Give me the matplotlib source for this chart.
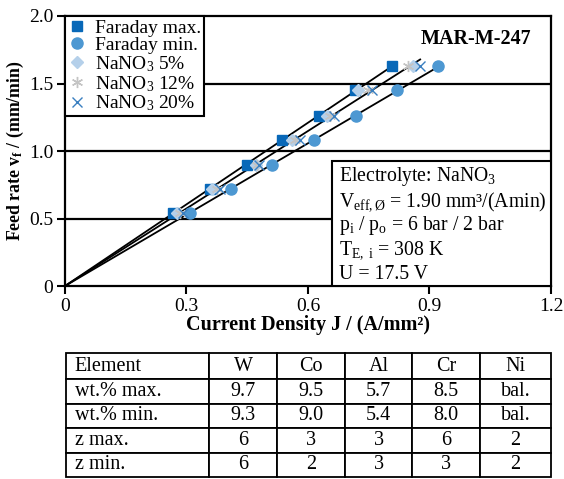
import numpy as np
import matplotlib.pyplot as plt
from matplotlib.patches import Rectangle

plt.rcParams['font.family'] = ['Liberation Serif', 'DejaVu Serif']
plt.rcParams['mathtext.fontset'] = 'custom'
plt.rcParams['mathtext.rm'] = 'Liberation Serif'
plt.rcParams['mathtext.it'] = 'Liberation Serif:italic'
plt.rcParams['mathtext.bf'] = 'Liberation Serif:bold'

# feed rate levels (mm/min)
feed = [0.54, 0.72, 0.90, 1.08, 1.26, 1.45, 1.63]
# current density (A/mm2) per series
j_far_max = [0.267, 0.358, 0.449, 0.537, 0.628, 0.716, 0.807]
j_far_min = [0.309, 0.410, 0.512, 0.615, 0.718, 0.820, 0.922]
j_nano5 = [0.276, 0.362, 0.472, 0.561, 0.646, 0.723, 0.860]
j_nano12 = [0.284, 0.375, 0.475, 0.568, 0.654, 0.749, 0.847]
j_nano20 = [0.292, 0.384, 0.478, 0.580, 0.664, 0.757, 0.877]

xticks = [0, 0.3, 0.6, 0.9, 1.2]
xticklabels = ['0', '0.3', '0.6', '0.9', '1.2']
yticks = [0, 0.5, 1.0, 1.5, 2.0]
yticklabels = ['0', '0.5', '1.0', '1.5', '2.0']

tbl_header = ['Element', 'W', 'Co', 'Al', 'Cr', 'Ni']
tbl_rows = [
    ['wt.% max.', '9.7', '9.5', '5.7', '8.5', 'bal.'],
    ['wt.% min.', '9.3', '9.0', '5.4', '8.0', 'bal.'],
    ['z max.', '6', '3', '3', '6', '2'],
    ['z min.', '6', '2', '3', '3', '2'],
]

info_lines = [
    r'Electrolyte: NaNO$_3$',
    r'V$_{\mathrm{eff,Ø}}$ = 1.90 mm³/(Amin)',
    r'p$_\mathrm{i}$ / p$_\mathrm{o}$ = 6 bar / 2 bar',
    r'T$_{\mathrm{E,\ i}}$ = 308 K',
    'U = 17.5 V',
]

fig = plt.figure(figsize=(5.64, 4.79), dpi=100)
ax = fig.add_axes([0.1152, 0.4029, 0.8617, 0.5637])

# fitted lines through origin
def fit_line(xs, ys):
    xs = np.array(xs)
    ys = np.array(ys)
    k = np.sum(xs * ys) / np.sum(xs * xs)
    xe = xs.max()
    ax.plot([0, xe], [0, k * xe], color='black', lw=1.3, zorder=2)

fit_line(j_far_max, feed)
fit_line(j_nano5 + j_nano12 + j_nano20, feed * 3)
fit_line(j_far_min, feed)

for yv in [0.5, 1.0, 1.5]:
    ax.axhline(yv, color='black', lw=1.6, zorder=1)

ax.plot(j_far_max, feed, 's', color='#0868b8', ms=7.5, ls='none', label='Faraday max.', zorder=3)
ax.plot(j_far_min, feed, 'o', color='#4d98d2', ms=8, ls='none', label='Faraday min.', zorder=3)
ax.plot(j_nano5, feed, 'D', color='#b5d0ea', ms=6, ls='none', label=r'NaNO$_3$ 5%', zorder=4)
ax.plot(j_nano12, feed, marker=(6, 2, 0), color='#c4c4c4', ms=8, mew=1.0, ls='none', label=r'NaNO$_3$ 12%', zorder=4)
ax.plot(j_nano20, feed, 'x', color='#3a7fc0', ms=7, mew=1.0, ls='none', label=r'NaNO$_3$ 20%', zorder=4)

ax.set_xlim(0, 1.2)
ax.set_ylim(0, 2.0)
ax.set_xticks(xticks)
ax.set_xticklabels(xticklabels)
ax.set_yticks(yticks)
ax.set_yticklabels(yticklabels)
ax.tick_params(direction='out', length=6, width=1.5, labelsize=14, colors='black', pad=2.5)
for s in ax.spines.values():
    s.set_linewidth(1.6)

ax.set_xlabel('Current Density J / (A/mm²)', fontsize=14.5, fontweight='bold', labelpad=0)
ax.set_ylabel(r'Feed rate v$_\mathbf{f}$ / (mm/min)', fontsize=12.8, fontweight='bold', labelpad=2)

leg = ax.legend(loc='upper left', bbox_to_anchor=(0, 1), borderaxespad=0, fancybox=False,
                edgecolor='black', framealpha=1, fontsize=14, labelspacing=0.0,
                handlelength=0.9, handletextpad=0.5, borderpad=0.15)
leg.get_frame().set_linewidth(1.5)
leg.set_zorder(6)

ax.text(0.96, 0.915, 'MAR-M-247', transform=ax.transAxes, ha='right', va='center',
        fontsize=14.5, fontweight='bold', zorder=6)

# info box
ax.add_patch(Rectangle((0.55, 0.0), 0.45, 0.462, transform=ax.transAxes, facecolor='white',
                       edgecolor='black', lw=1.5, zorder=5))
for i, line in enumerate(info_lines):
    ax.text(0.564, 0.405 - i * 0.0905, line, transform=ax.transAxes, ha='left', va='center',
            fontsize=14.2, zorder=6)

# composition table
tax = fig.add_axes([0.117, 0.004, 0.860, 0.259])
tax.axis('off')
col_w = np.array([143, 68, 68, 67, 68, 71], dtype=float)
col_w = col_w / col_w.sum()
tbl = tax.table(cellText=tbl_rows, colLabels=tbl_header, colWidths=list(col_w),
                bbox=[0, 0, 1, 1], cellLoc='center')
tbl.auto_set_font_size(False)
for (r, c), cell in tbl.get_celld().items():
    cell.set_linewidth(1.3)
    cell.get_text().set_fontsize(14.5)
    if c == 0:
        cell.get_text().set_ha('left')
        cell._loc = 'left'
        cell.PAD = 0.06
    if r == 0:
        cell.set_height(0.21)
    else:
        cell.set_height(0.1975)

fig.savefig('out.png', dpi=100)
